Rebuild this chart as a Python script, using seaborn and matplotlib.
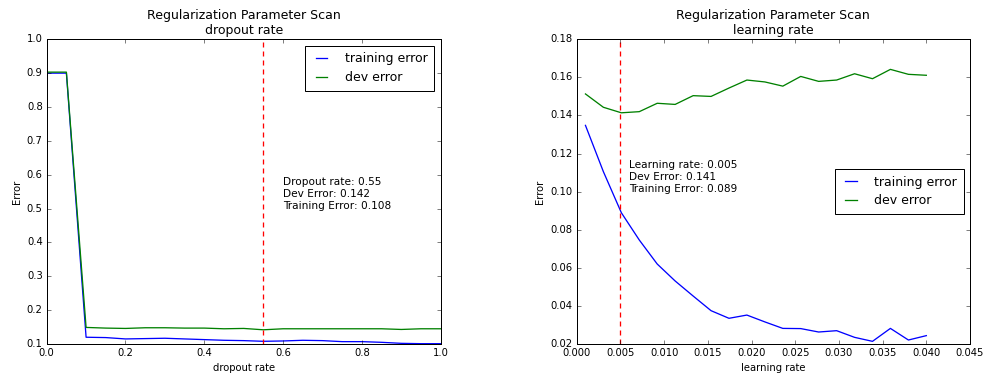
import matplotlib
matplotlib.use("Agg")
import matplotlib.pyplot as plt
import seaborn as sns

# dropout scan
dropout_rate = [0.0, 0.05, 0.1, 0.15, 0.2, 0.25, 0.3, 0.35, 0.4, 0.45, 0.5,
                0.55, 0.6, 0.65, 0.7, 0.75, 0.8, 0.85, 0.9, 0.95, 1.0]
dropout_train = [0.900, 0.900, 0.120, 0.119, 0.115, 0.116, 0.117, 0.115, 0.113, 0.111, 0.110,
                 0.108, 0.109, 0.111, 0.110, 0.107, 0.107, 0.105, 0.102, 0.101, 0.101]
dropout_dev = [0.903, 0.903, 0.149, 0.147, 0.146, 0.148, 0.148, 0.147, 0.147, 0.145, 0.146,
               0.142, 0.145, 0.145, 0.145, 0.145, 0.145, 0.145, 0.143, 0.145, 0.145]

# learning rate scan
learning_rate = [0.00100, 0.00305, 0.00511, 0.00716, 0.00921, 0.01126, 0.01332, 0.01537,
                 0.01742, 0.01947, 0.02153, 0.02358, 0.02563, 0.02768, 0.02974, 0.03179,
                 0.03384, 0.03589, 0.03795, 0.04000]
lr_train = [0.1348, 0.1105, 0.0889, 0.0746, 0.0620, 0.0531, 0.0452, 0.0375, 0.0335, 0.0352,
            0.0316, 0.0282, 0.0281, 0.0263, 0.0270, 0.0235, 0.0214, 0.0282, 0.0221, 0.0244]
lr_dev = [0.1513, 0.1443, 0.1414, 0.1420, 0.1464, 0.1458, 0.1504, 0.1500, 0.1544, 0.1586,
          0.1576, 0.1554, 0.1605, 0.1579, 0.1586, 0.1619, 0.1593, 0.1642, 0.1616, 0.1611]

best_dropout = 0.55
best_lr = 0.005

BLUE = "#0000ff"
GREEN = "#008000"
RED = "#ff0000"

plt.style.use("classic")
plt.rcParams["font.size"] = 10

fig, (ax1, ax2) = plt.subplots(1, 2, figsize=(985 / 72, 377 / 72), dpi=72)
fig.patch.set_facecolor("white")
ax1.set_position([0.0474, 0.0875, 0.400, 0.8083])
ax2.set_position([0.5855, 0.0875, 0.3993, 0.8083])

def scan_panel(ax, x, train, dev, best, xlim, ylim, name, note, note_xy, legend_loc):
    sns.lineplot(x=x, y=train, ax=ax, color=BLUE, linewidth=1.3, label="training error")
    sns.lineplot(x=x, y=dev, ax=ax, color=GREEN, linewidth=1.3, label="dev error")
    ax.axvline(best, color=RED, linestyle="--", linewidth=1.3, dashes=(5, 4))
    ax.text(note_xy[0], note_xy[1], note, fontsize=10.5)
    ax.set_xlim(*xlim)
    ax.set_ylim(*ylim)
    ax.set_title("Regularization Parameter Scan\n" + name, fontsize=12.5)
    ax.set_xlabel(name)
    ax.set_ylabel("Error")
    leg = ax.legend(loc=legend_loc, fontsize=12.5, handlelength=1.5,
                    handletextpad=1.1, borderpad=0.55, labelspacing=0.45)
    leg.get_frame().set_edgecolor("black")

scan_panel(ax1, dropout_rate, dropout_train, dropout_dev, best_dropout, (0, 1), (0.1, 1.0),
           "dropout rate", "Dropout rate: 0.55\nDev Error: 0.142\nTraining Error: 0.108",
           (0.6, 0.5), "upper right")
scan_panel(ax2, learning_rate, lr_train, lr_dev, best_lr, (0, 0.045), (0.02, 0.18),
           "learning rate", "Learning rate: 0.005\nDev Error: 0.141\nTraining Error: 0.089",
           (0.006, 0.1), "center right")

fig.savefig("out.png", dpi=72, facecolor="white")
